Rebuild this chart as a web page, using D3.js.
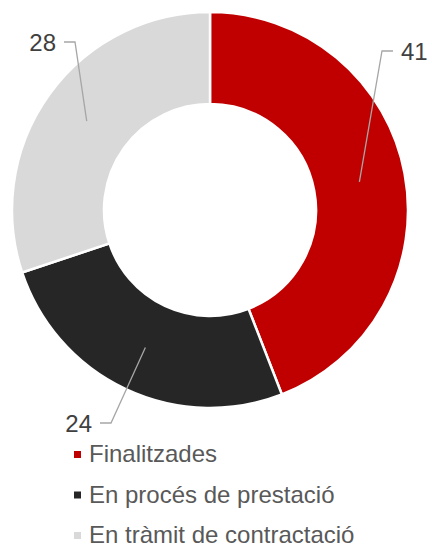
<!DOCTYPE html>
<html>
<head>
<meta charset="utf-8">
<script src="https://cdn.jsdelivr.net/npm/d3@7"></script>
<style>
  body { margin: 0; background: #fff; }
  svg { display: block; font-family: "Liberation Sans", Arial, sans-serif; }
</style>
</head>
<body>
<script>
const categories = ["Finalitzades", "En procés de prestació", "En tràmit de contractació"];
const values = [41, 24, 28];
const colors = ["#C00000", "#262626", "#D9D9D9"];

const w = 432;
const h = 551;
const cx = 210;
const cy = 210;
const outerR = 198;
const innerR = 106;
// where each label's leader line ends (offset from centre), and which side the text sits
const labelAt = [[183, -159, "start"], [-110, 213, "end"], [-146, -168, "end"]];

const svg = d3.select("body").append("svg").attr("width", w).attr("height", h);

const pie = d3.pie().sort(null).value((d) => d);
const arc = d3.arc().innerRadius(innerR).outerRadius(outerR);
const arcs = pie(values);

const g = svg.append("g").attr("transform", `translate(${cx}, ${cy})`);

g.selectAll("path.slice")
  .data(arcs)
  .enter()
  .append("path")
  .attr("class", "slice")
  .attr("d", arc)
  .attr("fill", (d, i) => colors[i])
  .attr("stroke", "#fff")
  .attr("stroke-width", 2.5)
  .attr("stroke-linejoin", "miter");

// leader lines + labels
arcs.forEach((d, i) => {
  const [px, py] = arc.centroid(d);
  const [lx, ly, anchor] = labelAt[i];
  const elbowX = anchor === "start" ? lx - 11 : lx + 11;
  g.append("polyline")
    .attr("points", `${px},${py} ${elbowX},${ly} ${lx},${ly}`)
    .attr("fill", "none")
    .attr("stroke", "#A6A6A6")
    .attr("stroke-width", 1.3);
  g.append("text")
    .text(values[i])
    .attr("x", anchor === "start" ? lx + 8 : lx - 8)
    .attr("y", ly + 9)
    .attr("text-anchor", anchor)
    .attr("font-size", 24)
    .attr("fill", "#404040");
});

// legend
const legend = svg.append("g").attr("transform", "translate(74, 462)");
const rowH = 40.5;
categories.forEach((c, i) => {
  legend.append("rect")
    .attr("x", 0)
    .attr("y", i * rowH - 11)
    .attr("width", 7)
    .attr("height", 7)
    .attr("fill", colors[i]);
  legend.append("text")
    .text(c)
    .attr("x", 15)
    .attr("y", i * rowH)
    .attr("font-size", 24)
    .attr("fill", "#595959");
});
</script>
</body>
</html>
